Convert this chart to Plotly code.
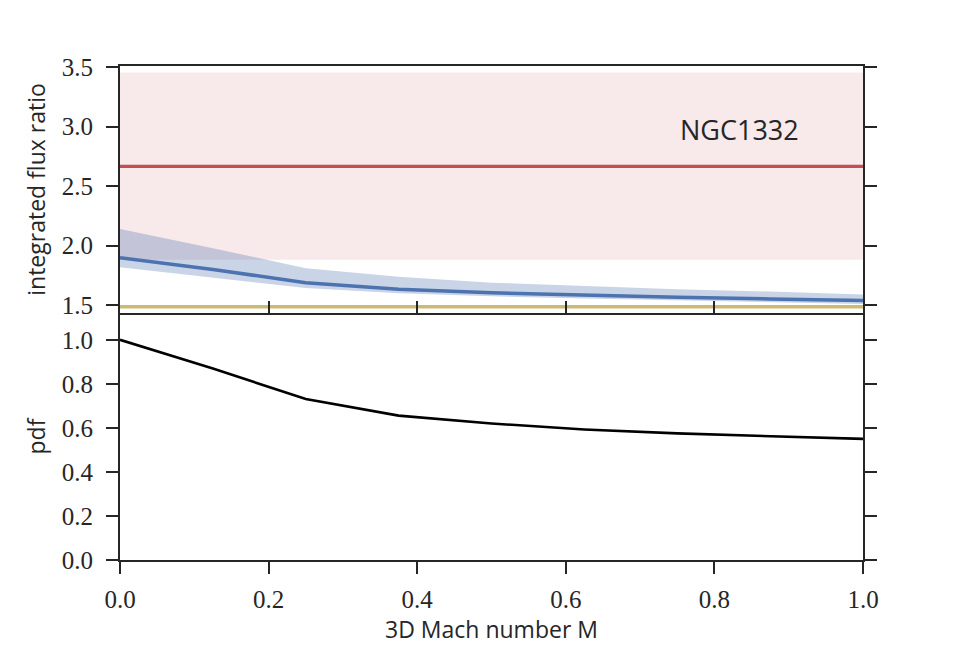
import plotly.graph_objects as go
from plotly.subplots import make_subplots

mach = [0.0, 0.125, 0.25, 0.375, 0.5, 0.625, 0.75, 0.875, 1.0]
ratio_mid = [1.90, 1.80, 1.69, 1.635, 1.605, 1.585, 1.567, 1.553, 1.54]
ratio_hi = [2.14, 1.98, 1.81, 1.74, 1.69, 1.66, 1.635, 1.615, 1.59]
ratio_lo = [1.82, 1.73, 1.645, 1.60, 1.575, 1.557, 1.54, 1.525, 1.51]
pdf = [1.0, 0.87, 0.731, 0.656, 0.62, 0.593, 0.575, 0.561, 0.55]

obs_x = [0.0, 1.0]
obs_val = 2.666
obs_lo = 1.882
obs_hi = 3.455
floor_val = 1.488
label = "NGC1332"

RED = "#C44E52"
BLUE = "#4C72B0"
YEL = "#CCB974"
AX = "#262626"

fig = make_subplots(rows=2, cols=1, shared_xaxes=True, vertical_spacing=0)

# red observed band
fig.add_trace(go.Scatter(x=obs_x, y=[obs_lo] * 2, mode="lines", line=dict(width=0),
                         showlegend=False, hoverinfo="skip"), row=1, col=1)
fig.add_trace(go.Scatter(x=obs_x, y=[obs_hi] * 2, mode="lines", line=dict(width=0),
                         fill="tonexty", fillcolor="rgba(196,78,82,0.12)",
                         showlegend=False, hoverinfo="skip"), row=1, col=1)
# blue band
fig.add_trace(go.Scatter(x=mach, y=ratio_lo, mode="lines", line=dict(width=0),
                         showlegend=False, hoverinfo="skip"), row=1, col=1)
fig.add_trace(go.Scatter(x=mach, y=ratio_hi, mode="lines", line=dict(width=0),
                         fill="tonexty", fillcolor="rgba(76,114,176,0.30)",
                         showlegend=False, hoverinfo="skip"), row=1, col=1)
# lines
fig.add_trace(go.Scatter(x=obs_x, y=[obs_val] * 2, mode="lines",
                         line=dict(color=RED, width=3.2), showlegend=False), row=1, col=1)
fig.add_trace(go.Scatter(x=obs_x, y=[floor_val] * 2, mode="lines",
                         line=dict(color=YEL, width=3.5), showlegend=False), row=1, col=1)
fig.add_trace(go.Scatter(x=mach, y=ratio_mid, mode="lines",
                         line=dict(color=BLUE, width=3.5), showlegend=False), row=1, col=1)
# pdf
fig.add_trace(go.Scatter(x=mach, y=pdf, mode="lines",
                         line=dict(color="black", width=2.6), showlegend=False), row=2, col=1)

fig.add_annotation(x=0.834, y=2.976, xref="x", yref="y", text=label, showarrow=False,
                   font=dict(family="Open Sans", size=27, color=AX))

tickfont = dict(family="Liberation Serif", size=25, color=AX)
titlefont = dict(family="Open Sans", size=23, color=AX)

common_y = dict(showline=True, linecolor=AX, linewidth=2, mirror="ticks", ticks="outside",
                ticklen=12, tickwidth=1.5, tickcolor=AX, showgrid=False, zeroline=False,
                tickfont=tickfont, tickformat=".1f", ticklabelstandoff=8)
fig.update_yaxes(**common_y, range=[1.435, 3.51], dtick=0.5, tick0=1.5,
                 title=dict(text="integrated flux ratio", font=titlefont, standoff=10), row=1, col=1)
fig.update_yaxes(**common_y, range=[0, 1.122], dtick=0.2,
                 title=dict(text="pdf", font=titlefont, standoff=10), row=2, col=1)

fig.update_xaxes(range=[0, 1], dtick=0.2, showline=True, linecolor=AX, linewidth=2,
                 showgrid=False, zeroline=False, tickcolor=AX,
                 tickwidth=1.5, ticklen=12)
fig.update_xaxes(ticks="inside", showticklabels=False, mirror=True, row=1, col=1)
fig.update_xaxes(ticks="outside", tickfont=tickfont, tickformat=".1f", mirror=False,
                 ticklabelstandoff=4,
                 title=dict(text="3D Mach number M", font=titlefont, standoff=6), row=2, col=1)

fig.update_layout(width=960, height=660, margin=dict(l=120, r=97, t=66, b=100),
                  plot_bgcolor="white", paper_bgcolor="white")

fig.write_html("out.html")
